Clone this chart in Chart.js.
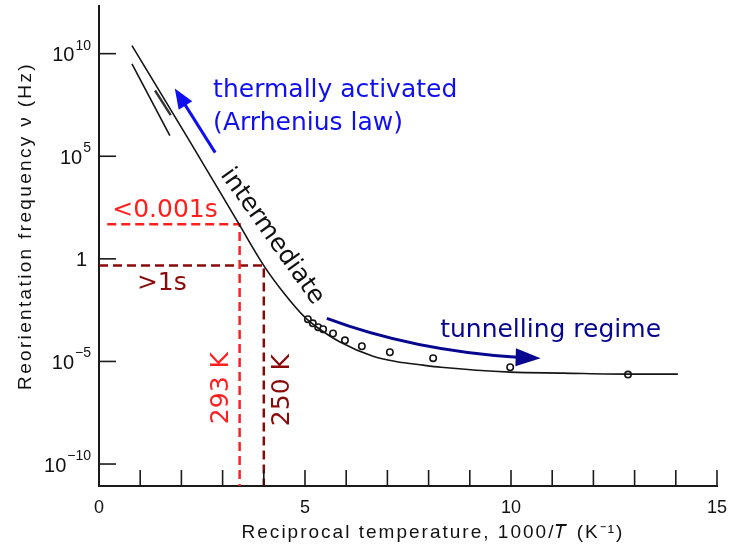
<!DOCTYPE html>
<html lang="en">
<head>
<meta charset="UTF-8">
<title>Reorientation frequency vs reciprocal temperature</title>
<script src="https://cdn.jsdelivr.net/npm/chart.js"></script>
<style>
  body { margin: 0; background: #fff; }
  #wrap { width: 729px; height: 554px; }
</style>
</head>
<body>
<div id="wrap"><canvas id="chart" width="729" height="554"></canvas></div>
<script>
  // 1000/T in K^-1, frequencies in Hz
  const curveX  = [0.80, 2.20, 3.41, 4.00, 4.50, 5.00, 5.30, 5.85, 6.65, 7.20, 7.86, 8.30, 9.98, 11.26, 12.89, 14.05];
  const curveNu = [2.45e10, 5.5e5, 45, 0.47, 2.0e-2, 1.4e-3, 4.5e-4, 8.9e-5, 1.8e-5, 1.0e-5, 6.6e-6, 5.2e-6, 3.0e-6, 2.7e-6, 2.4e-6, 2.4e-6];

  const lowerX  = [0.80, 1.72];
  const lowerNu = [3.2e9, 1.0e6];

  const stubX  = [1.36, 1.74];
  const stubNu = [1.6e8, 1.0e7];

  const pointsX  = [5.07, 5.19, 5.32, 5.44, 5.68, 5.97, 6.38, 7.06, 8.11, 9.98, 12.84];
  const pointsNu = [1.15e-3, 7.2e-4, 4.7e-4, 3.7e-4, 2.3e-4, 1.07e-4, 5.5e-5, 2.8e-5, 1.45e-5, 5.2e-6, 2.3e-6];

  // room temperature and 250 K guides
  const guideT  = [293, 250];
  const guideNu = [48, 0.48];
  const guideStart = [0.2, 0];

  const yTickValues = [1e10, 1e5, 1, 1e-5, 1e-10];
  const yTickBase = ['10', '10', '1', '10', '10'];
  const yTickExp  = ['10', '5', '', '\u22125', '\u221210'];

  const yMin = 8.5e-12, yMax = 2.2e12;

  const RED = '#ff1f1f', DARKRED = '#8a0a0a', BLUE = '#1010ee', NAVY = '#06068f';
  const SCAN = "'Liberation Sans', Arial, sans-serif";
  const LABEL = "'DejaVu Sans', Verdana, sans-serif";

  const pts = (xs, ys) => xs.map((x, i) => ({ x: x, y: ys[i] }));

  const guides = guideT.map((T, i) => pts(
    [guideStart[i], 1000 / T, 1000 / T],
    [guideNu[i], guideNu[i], yMin]
  ));

  // text placed in data units
  const notes = [
    { text: 'thermally activated', x: 2.77, y: 1.6e8,  color: BLUE,    angle: 0,    align: 'left' },
    { text: '(Arrhenius law)',     x: 2.77, y: 3.9e6,  color: BLUE,    angle: 0,    align: 'left' },
    { text: 'intermediate',        x: 4.20, y: 12.3,   color: '#111',  angle: 54.5, align: 'center' },
    { text: '<0.001s',             x: 0.32, y: 230,    color: RED,     angle: 0,    align: 'left' },
    { text: '>1s',                 x: 0.92, y: 0.065,  color: DARKRED, angle: 0,    align: 'left' },
    { text: '293 K',               x: 2.97, y: 5.0e-7, color: RED,     angle: -90,  align: 'center' },
    { text: '250 K',               x: 4.45, y: 4.0e-7, color: DARKRED, angle: -90,  align: 'center' },
    { text: 'tunnelling regime',   x: 8.28, y: 3.3e-4, color: NAVY,    angle: 0,    align: 'left' }
  ];

  function arrowHead(ctx, fx, fy, tx, ty, len, half) {
    const a = Math.atan2(ty - fy, tx - fx);
    ctx.beginPath();
    ctx.moveTo(tx, ty);
    ctx.lineTo(tx - len * Math.cos(a) + half * Math.sin(a), ty - len * Math.sin(a) - half * Math.cos(a));
    ctx.lineTo(tx - len * Math.cos(a) - half * Math.sin(a), ty - len * Math.sin(a) + half * Math.cos(a));
    ctx.closePath();
    ctx.fill();
  }

  // spread letters so a title covers the given width
  function spacedText(ctx, text, x, y, width) {
    ctx.letterSpacing = '0px';
    const w = ctx.measureText(text).width;
    ctx.letterSpacing = Math.max(0, (width - w) / text.length).toFixed(2) + 'px';
    ctx.fillText(text, x, y);
    ctx.letterSpacing = '0px';
  }

  const decorations = {
    id: 'decorations',
    afterDatasetsDraw(chart) {
      const ctx = chart.ctx;
      const sx = chart.scales.x, sy = chart.scales.y;
      const P = (x, y) => [sx.getPixelForValue(x), sy.getPixelForValue(y)];
      const area = chart.chartArea;
      ctx.save();

      // inward tick marks
      ctx.strokeStyle = '#1a1a1a';
      ctx.lineWidth = 1.6;
      sx.ticks.forEach(t => {
        if (t.value <= 0) return;
        const x = sx.getPixelForValue(t.value);
        ctx.beginPath();
        ctx.moveTo(x, area.bottom);
        ctx.lineTo(x, area.bottom - 16);
        ctx.stroke();
      });
      sy.ticks.forEach(t => {
        const y = sy.getPixelForValue(t.value);
        ctx.beginPath();
        ctx.moveTo(area.left, y);
        ctx.lineTo(area.left + 17, y);
        ctx.stroke();
      });

      // y tick labels with superscript exponents
      ctx.fillStyle = '#111';
      ctx.textBaseline = 'middle';
      ctx.textAlign = 'right';
      yTickValues.forEach((v, i) => {
        const y = sy.getPixelForValue(v);
        const right = area.left - 8;
        ctx.font = '14px ' + SCAN;
        const ew = ctx.measureText(yTickExp[i]).width;
        ctx.fillText(yTickExp[i], right, y - 8);
        ctx.font = '20px ' + SCAN;
        ctx.fillText(yTickBase[i], right - ew - (ew ? 1 : 4), y + 2);
      });

      // axis titles
      ctx.font = '19px ' + SCAN;
      ctx.textAlign = 'center';
      spacedText(ctx, 'Reciprocal temperature, 1000/\u{1D447} (K\u207B\u00B9)', 433, 533, 385);
      ctx.save();
      ctx.translate(26, 226);
      ctx.rotate(-Math.PI / 2);
      spacedText(ctx, 'Reorientation frequency \u03BD (Hz)', 0, 0, 328);
      ctx.restore();

      // arrows
      ctx.fillStyle = BLUE;
      ctx.strokeStyle = BLUE;
      ctx.lineWidth = 3;
      const a0 = P(2.82, 1.5e5), a1 = P(1.84, 2.0e8);
      ctx.beginPath();
      ctx.moveTo(a0[0], a0[1]);
      ctx.lineTo(a0[0] + (a1[0] - a0[0]) * 0.8, a0[1] + (a1[1] - a0[1]) * 0.8);
      ctx.stroke();
      arrowHead(ctx, a0[0], a0[1], a1[0], a1[1], 20, 8);

      ctx.fillStyle = NAVY;
      ctx.strokeStyle = NAVY;
      const b0 = P(5.53, 1.26e-3), bc = P(7.6, 3.5e-5), b1 = P(10.15, 1.6e-5), b2 = P(10.72, 1.45e-5);
      ctx.beginPath();
      ctx.moveTo(b0[0], b0[1]);
      ctx.quadraticCurveTo(bc[0], bc[1], b1[0], b1[1]);
      ctx.stroke();
      arrowHead(ctx, b1[0] - 4, b1[1], b2[0], b2[1], 25, 9);

      // text notes
      ctx.font = '25px ' + LABEL;
      notes.forEach(n => {
        const p = P(n.x, n.y);
        ctx.save();
        ctx.translate(p[0], p[1]);
        ctx.rotate(n.angle * Math.PI / 180);
        ctx.fillStyle = n.color;
        ctx.textAlign = n.align;
        ctx.textBaseline = 'middle';
        ctx.fillText(n.text, 0, 0);
        ctx.restore();
      });

      ctx.restore();
    }
  };

  new Chart(document.getElementById('chart'), {
    type: 'scatter',
    data: {
      datasets: [{
        data: pts(curveX, curveNu),
        showLine: true,
        borderColor: '#151515',
        borderWidth: 1.6,
        pointRadius: 0,
        cubicInterpolationMode: 'monotone'
      }, {
        data: pts(lowerX, lowerNu),
        showLine: true,
        borderColor: '#151515',
        borderWidth: 1.6,
        pointRadius: 0
      }, {
        data: pts(stubX, stubNu),
        showLine: true,
        borderColor: '#333',
        borderWidth: 2.4,
        pointRadius: 0
      }, {
        data: pts(pointsX, pointsNu),
        showLine: false,
        pointRadius: 3.2,
        pointBorderWidth: 1.6,
        pointBackgroundColor: '#fff',
        pointBorderColor: '#151515'
      }, {
        data: guides[0],
        showLine: true,
        borderColor: RED,
        borderWidth: 2.5,
        borderDash: [9, 5],
        pointRadius: 0
      }, {
        data: guides[1],
        showLine: true,
        borderColor: DARKRED,
        borderWidth: 2.5,
        borderDash: [9, 5],
        pointRadius: 0
      }]
    },
    options: {
      responsive: false,
      animation: false,
      layout: { padding: { top: 5, right: 12, left: 0, bottom: 0 } },
      plugins: { legend: { display: false }, tooltip: { enabled: false } },
      scales: {
        x: {
          type: 'linear',
          min: 0,
          max: 15,
          ticks: {
            stepSize: 1,
            autoSkip: false,
            maxRotation: 0,
            padding: 11,
            color: '#111',
            font: { family: SCAN, size: 18 },
            callback: v => (v % 5 === 0 ? String(v) : '')
          },
          grid: { display: true, drawOnChartArea: false, drawTicks: false },
          border: { color: '#1a1a1a', width: 2 },
          afterFit: s => { s.height = 68; s.paddingLeft = 0; s.paddingRight = 0; }
        },
        y: {
          type: 'logarithmic',
          min: yMin,
          max: yMax,
          afterBuildTicks: s => { s.ticks = yTickValues.map(v => ({ value: v })); },
          ticks: { display: false },
          grid: { display: true, drawOnChartArea: false, drawTicks: false },
          border: { color: '#1a1a1a', width: 2 },
          afterFit: s => { s.width = 99; }
        }
      }
    },
    plugins: [decorations]
  });
</script>
</body>
</html>
